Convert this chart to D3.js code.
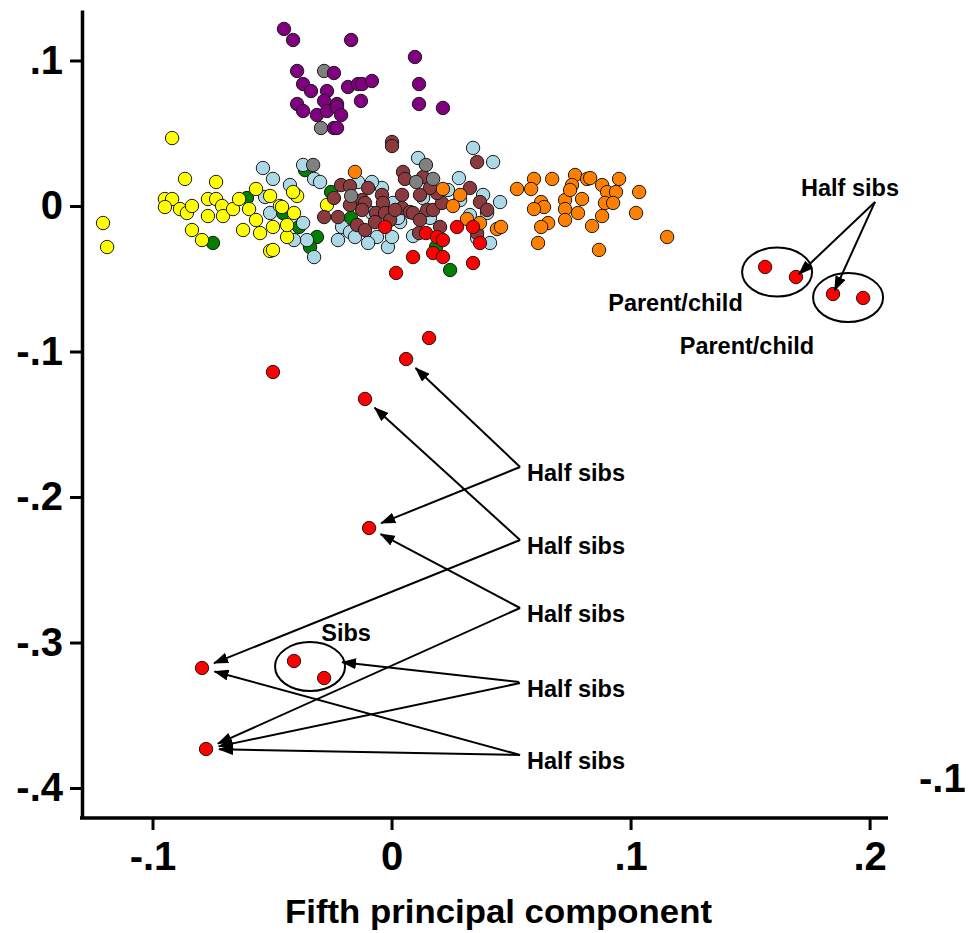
<!DOCTYPE html>
<html><head><meta charset="utf-8">
<script src="https://cdn.jsdelivr.net/npm/d3@7/dist/d3.min.js"></script>
<style>body{margin:0;background:#fff}svg{display:block}</style>
</head><body>
<svg id="chart" width="969" height="933"></svg>
<script>
// ---------- data (x = fifth PC, y = other PC) ----------
const xTicks = [-0.1, 0, 0.1, 0.2];
const yTicks = [0.1, 0, -0.1, -0.2, -0.3, -0.4];
const xTitle = "Fifth principal component";

const green = [[-0.0747,-0.0254],[-0.0605,0.0055],[-0.0454,-0.0048],[-0.0387,-0.0144],[-0.0312,-0.0213],[-0.0341,-0.0282],[-0.0253,0.0096],[-0.0169,-0.0082],[0.0186,-0.0282],[0.0245,-0.0440],[-0.0362,0.0247]];
const lightblue = [[-0.0538,0.0261],[-0.0496,0.0186],[-0.0425,0.0144],[-0.0508,-0.0048],[-0.0370,-0.0117],[-0.0354,-0.0234],[-0.0408,-0.0234],[-0.0324,-0.0351],[-0.0370,0.0282],[-0.0324,0.0186],[-0.0299,0.0165],[-0.0529,0.0062],[-0.0207,-0.0144],[-0.0061,-0.0213],[-0.0015,-0.0282],[-0.0098,-0.0254],[-0.0040,0.0124],[-0.0082,0.0165],[-0.0140,0.0165],[0.0006,0.0021],[-0.0082,-0.0048],[0.0002,-0.0213],[0.0111,0.0330],[0.0090,-0.0206],[0.0341,0.0399],[0.0425,0.0302],[0.0282,0.0192],[0.0383,0.0076],[0.0454,0.0027],[0.0412,-0.0254],[0.0358,-0.0220],[0.0161,-0.0082],[0.0132,0.0055],[0.0400,-0.0048],[-0.0174,-0.0179],[0.0236,0.0110],[0.0036,-0.0110],
  [-0.0224,-0.0234],[-0.0153,-0.0213],[0.0027,-0.0082],[0.0287,0.0041],[0.0328,-0.0062]];
const yellow = [[-0.0918,0.0467],[-0.0864,0.0186],[-0.0734,0.0165],[-0.1207,-0.0117],[-0.1190,-0.0282],[-0.0948,0.0048],[-0.0918,0.0048],[-0.0948,-0.0007],[-0.0885,-0.0021],[-0.0856,-0.0048],[-0.0835,0.0000],[-0.0768,0.0048],[-0.0734,0.0048],[-0.0709,0.0000],[-0.0768,-0.0069],[-0.0705,-0.0069],[-0.0663,-0.0021],[-0.0638,0.0048],[-0.0596,-0.0021],[-0.0567,0.0117],[-0.0508,0.0069],[-0.0467,0.0000],[-0.0408,0.0089],[-0.0395,0.0069],[-0.0408,-0.0048],[-0.0835,-0.0165],[-0.0793,-0.0234],[-0.0621,-0.0165],[-0.0567,-0.0096],[-0.0550,-0.0186],[-0.0496,-0.0144],[-0.0437,-0.0213],[-0.0508,-0.0309],[-0.0496,-0.0302],[-0.0437,-0.0131],[-0.0412,0.0096],[-0.0458,-0.0007],[-0.0270,0.0007]];
const maroon = [[0.0002,0.0440],[0.0002,0.0412],[0.0358,0.0302],[0.0048,0.0234],[0.0056,0.0186],[0.0132,0.0199],[-0.0211,0.0144],[-0.0098,0.0124],[-0.0040,0.0076],[-0.0241,0.0055],[-0.0123,0.0041],[-0.0111,0.0021],[-0.0036,0.0021],[-0.0282,-0.0076],[-0.0224,-0.0076],[-0.0123,-0.0027],[-0.0065,-0.0048],[-0.0027,-0.0048],[0.0044,0.0076],[0.0044,-0.0014],[0.0077,-0.0041],[0.0090,-0.0048],[0.0149,-0.0027],[0.0174,-0.0027],[0.0211,0.0021],[0.0190,0.0089],[0.0161,0.0124],[0.0328,0.0124],[0.0370,0.0027],[0.0400,-0.0027],[-0.0144,-0.0131],[-0.0111,-0.0165],[-0.0069,-0.0110],[-0.0006,-0.0096],[0.0203,-0.0144],[0.0115,-0.0186],[0.0358,-0.0186],[-0.0174,0.0137],[0.0015,-0.0027],[0.0119,0.0076],
  [-0.0174,0.0007],[0.0119,-0.0096]];
const gray = [[-0.0282,0.0928],[-0.0295,0.0536],[-0.0328,0.0282],[-0.0169,0.0069],[0.0144,0.0282],[0.0103,0.0165],[0.0174,0.0186]];
const purple = [[-0.0450,0.1217],[-0.0412,0.1141],[-0.0169,0.1141],[0.0098,0.1024],[-0.0395,0.0928],[-0.0241,0.0914],[-0.0370,0.0838],[-0.0337,0.0790],[-0.0270,0.0790],[-0.0182,0.0818],[-0.0140,0.0838],[-0.0123,0.0838],[-0.0082,0.0859],[0.0115,0.0838],[-0.0282,0.0722],[-0.0228,0.0701],[-0.0128,0.0722],[-0.0395,0.0701],[-0.0370,0.0653],[-0.0312,0.0625],[-0.0270,0.0653],[-0.0228,0.0680],[-0.0211,0.0625],[0.0115,0.0701],[0.0215,0.0674],[-0.0241,0.0536],[-0.0228,0.0536]];
const orange = [[-0.0153,0.0234],[0.0215,0.0117],[0.0287,0.0076],[0.0257,0.0000],[0.0316,-0.0089],[0.0370,-0.0117],[0.0441,-0.0158],[0.0458,-0.0144],[0.0525,0.0117],[0.0596,0.0186],[0.0584,0.0117],[0.0672,0.0186],[0.0768,0.0213],[0.0755,0.0144],[0.0818,0.0186],[0.0831,0.0192],[0.0881,0.0144],[0.0952,0.0186],[0.0902,0.0096],[0.0939,0.0096],[0.1036,0.0096],[0.0626,0.0027],[0.0638,-0.0007],[0.0596,-0.0021],[0.0726,0.0041],[0.0797,0.0048],[0.0780,-0.0048],[0.0726,-0.0021],[0.0726,-0.0096],[0.0655,-0.0117],[0.0626,-0.0144],[0.0839,-0.0137],[0.0881,-0.0069],[0.0893,0.0021],[0.0927,0.0021],[0.1023,-0.0048],[0.0613,-0.0254],[0.0868,-0.0302],[0.1153,-0.0213],[0.0747,0.0110]];
const red = [[-0.0027,-0.0144],[0.0144,-0.0186],[0.0190,-0.0213],[0.0215,-0.0234],[0.0274,-0.0144],[0.0341,-0.0144],[0.0370,-0.0254],[0.0090,-0.0351],[0.0174,-0.0323],[0.0215,-0.0351],[0.0019,-0.0460],[0.0341,-0.0392],
  [-0.0496,-0.1141],[-0.0111,-0.1326],[0.0061,-0.1052],[0.0157,-0.0907],[-0.0094,-0.2213],[-0.0793,-0.3175],[-0.0776,-0.3732],[-0.0408,-0.3127],[-0.0282,-0.3244],
  [0.1563,-0.0419],[0.1692,-0.0488],[0.1847,-0.0605],[0.1973,-0.0632]];

// annotations (data coordinates)
const ellipses = [[0.1613,-0.0454],[0.1910,-0.0629],[-0.0341,-0.3165]];
const plainLabels = [["Parent/child",0.1188,-0.0667],["Parent/child",0.1487,-0.0962],["Sibs",-0.0190,-0.2935]];
const leftLabels = [
  {y:-0.1835, targets:[[0.0061,-0.1052],[-0.0094,-0.2213]]},
  {y:-0.2337, targets:[[-0.0111,-0.1326],[-0.0793,-0.3175]]},
  {y:-0.2804, targets:[[-0.0094,-0.2213],[-0.0776,-0.3732]]},
  {y:-0.3320, targets:["sibs",[-0.0776,-0.3732]]},
  {y:-0.3814, targets:[[-0.0793,-0.3175],[-0.0776,-0.3732]]}
];
const leftLabelX = 0.0567;
const topRightLabel = {x:0.1918, y:0.0124, targets:[[0.1692,-0.0488],[0.1847,-0.0605]]};

// ---------- drawing ----------
const svg = d3.select("#chart");
const x = d3.scaleLinear().domain([-0.1295, 0.2077]).range([82, 888]);
const y = d3.scaleLinear().domain([-0.4206, 0.1347]).range([818, 10]);
const fmt = v => v === 0 ? "0" : (v < 0 ? "-" : "") + d3.format(".1f")(Math.abs(v)).replace(/^0/, "");
const FONT = "'Liberation Sans', Arial, sans-serif";

svg.append("defs").append("marker")
  .attr("id","ah").attr("markerUnits","userSpaceOnUse")
  .attr("viewBox","0 0 15 11").attr("markerWidth",15).attr("markerHeight",11)
  .attr("refX",14).attr("refY",5.5).attr("orient","auto")
  .append("path").attr("d","M0,0 L15,5.5 L0,11 Z").attr("fill","#000");

// axes
const gx = svg.append("g").attr("transform","translate(0,818)")
  .call(d3.axisBottom(x).tickValues(xTicks).tickFormat(fmt).tickSize(12).tickSizeOuter(0).tickPadding(12));
const gy = svg.append("g").attr("transform","translate(82,0)")
  .call(d3.axisLeft(y).tickValues(yTicks).tickFormat(fmt).tickSize(12).tickSizeOuter(0).tickPadding(7));
[gx, gy].forEach(g => {
  g.select(".domain").attr("stroke","#000").attr("stroke-width",3.5);
  g.selectAll(".tick line").attr("stroke","#000").attr("stroke-width",3);
  g.selectAll(".tick text").attr("fill","#000").style("font-family",FONT).style("font-weight","bold").style("font-size","40px");
});
gx.select(".domain").attr("d","M80,0H888");

svg.append("text").attr("x",498.5).attr("y",923).attr("text-anchor","middle")
  .attr("textLength",427).attr("lengthAdjust","spacingAndGlyphs")
  .style("font-family",FONT).style("font-weight","bold").style("font-size","34px").text(xTitle);
// fragment of neighbouring panel
svg.append("text").attr("x",919).attr("y",792)
  .style("font-family",FONT).style("font-weight","bold").style("font-size","40px").text("-.1");

// points
const series = [[green,"#008000"],[lightblue,"#ADD8E6"],[yellow,"#FFFF00"],[maroon,"#8B3A3E"],[gray,"#808080"],[purple,"#800080"],[orange,"#FF8000"],[red,"#FF0000"]];
series.forEach(([pts,col]) => {
  svg.append("g").selectAll("circle").data(pts).join("circle")
    .attr("cx",d=>x(d[0])).attr("cy",d=>y(d[1])).attr("r",6.7)
    .attr("fill",col).attr("stroke","#1a1a1a").attr("stroke-width",1);
});

// ellipses
const RX = 35, RY = 24.5;
svg.append("g").selectAll("ellipse").data(ellipses).join("ellipse")
  .attr("cx",d=>x(d[0])).attr("cy",d=>y(d[1])).attr("rx",RX).attr("ry",RY)
  .attr("fill","none").attr("stroke","#000").attr("stroke-width",2);

function label(t, cx, cy, anchor){
  return svg.append("text").attr("x",cx).attr("y",cy+8.3).attr("text-anchor",anchor)
    .style("font-family",FONT).style("font-weight","bold").style("font-size","23.5px").text(t);
}
function arrow(x0,y0,tx,ty,gap){
  const dx = tx-x0, dy = ty-y0, L = Math.hypot(dx,dy);
  svg.append("line").attr("x1",x0).attr("y1",y0)
    .attr("x2",tx-dx/L*gap).attr("y2",ty-dy/L*gap)
    .attr("stroke","#000").attr("stroke-width",2).attr("marker-end","url(#ah)");
}

plainLabels.forEach(([t,lx,ly]) => label(t, x(lx), y(ly), "middle"));

const sibsE = ellipses[2];
leftLabels.forEach(l => {
  const lx = x(leftLabelX), ly = y(l.y);
  label("Half sibs", lx, ly, "start");
  l.targets.forEach(t => {
    if (t === "sibs") arrow(lx-8, ly-7, x(sibsE[0])+RX, y(sibsE[1])-4, -3);
    else arrow(lx-7, ly-6, x(t[0]), y(t[1]), 13);
  });
});

label("Half sibs", x(topRightLabel.x), y(topRightLabel.y), "middle");
topRightLabel.targets.forEach(t => arrow(x(topRightLabel.x)+25, y(topRightLabel.y)+14, x(t[0]), y(t[1]), 4));
</script>
</body></html>
